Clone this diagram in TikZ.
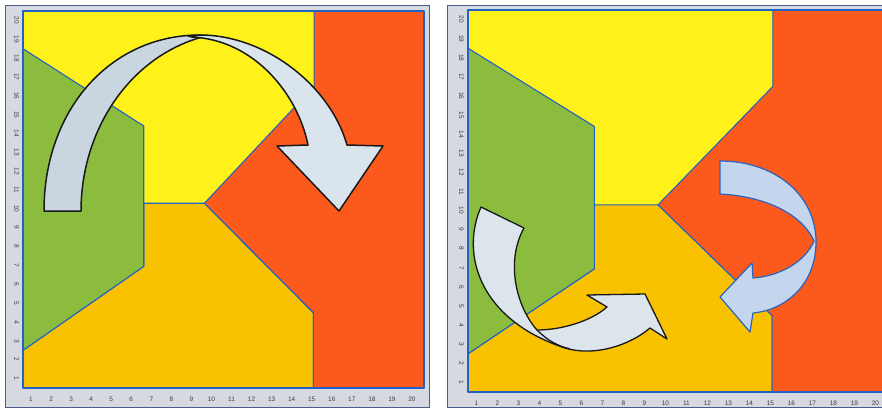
\documentclass[tikz,border=0pt]{standalone}
\usepackage{fontspec}
\setmainfont{Liberation Sans}
\definecolor{yellowR}{HTML}{FFF21A}
\definecolor{goldR}{HTML}{F8C200}
\definecolor{redR}{HTML}{FC5A1C}
\definecolor{greenR}{HTML}{8CBC3E}
\definecolor{rblue}{HTML}{2262C6}
\definecolor{framegray}{HTML}{D6DAE0}
\definecolor{framedge}{HTML}{4A5A8A}
\definecolor{labgray}{HTML}{3A3A3A}
\definecolor{arrowback}{HTML}{C9D6DF}
\definecolor{arrowfront}{HTML}{D9E4EC}
\definecolor{arrowA}{HTML}{DCE5EC}
\definecolor{arrowBfill}{HTML}{C3D6EE}
\definecolor{arrowBline}{HTML}{2A62C0}
\newcommand{\mypanel}[1]{%
  \fill[yellowR] (0,0) rectangle (20,20);
  \filldraw[region,fill=goldR] (0,0) -- (0,2) -- (6.02,6.45) -- (6.02,9.8) -- (9.05,9.8) -- (14.48,4) -- (14.48,0) -- cycle;
  \filldraw[region,fill=greenR] (0,18) -- (6.02,13.9) -- (6.02,6.45) -- (0,2) -- cycle;
  \filldraw[region,fill=redR] (14.48,0) -- (14.48,4) -- (9.05,9.8) -- (14.52,16) -- (14.52,20) -- (20,20) -- (20,0) -- cycle;
  \draw[region] (0,0) rectangle (20,20);
  \foreach \k in {1,...,20}{%
    \node[lab] (#1-x\k) at (\k-0.6,-0.58) {\k};
    \node[lab,rotate=-90] (#1-y\k) at (-0.32,\k-0.5) {\k};
  }%
}
\begin{document}
\begin{tikzpicture}[x=1pt,y=-1pt,
  region/.style={draw=rblue,line width=1.1pt,line join=round},
  lab/.style={font=\fontsize{6.5}{7}\selectfont,text=labgray,inner sep=0pt},
  arrowblack/.style={draw=black!90,line width=1.5pt,line join=round},
  arrowthin/.style={draw=black!90,line width=1.3pt,line join=round},
  arrowblue/.style={draw=arrowBline,line width=1.2pt,line join=round}]
\useasboundingbox (0,0) rectangle (882,410);
\clip (0,0) rectangle (882,410);
\fill[white] (0,0) rectangle (882,410);
% frames
\filldraw[fill=framegray,draw=framedge,line width=0.8pt] (5,5) rectangle (429,407);
\filldraw[fill=framegray,draw=framedge,line width=0.8pt] (447,5) rectangle (895,407);
% left panel
\begin{scope}[shift={(23pt,-388pt)},x=20.05pt,y=18.85pt]
  \mypanel{L}
\end{scope}
% right panel
\begin{scope}[shift={(468pt,-392pt)},x=21pt,y=19.1pt]
  \mypanel{R}
\end{scope}
% left arrow: back band
\filldraw[arrowblack,fill=arrowback] (44,211) .. controls (44,110) and (110,35) .. (200,35) -- (206,36)
  .. controls (130,55) and (81,130) .. (81,211) -- cycle;
% left arrow: front band with head
\filldraw[arrowblack,fill=arrowfront] (188,36) -- (200,35) .. controls (265,35) and (330,85) .. (347,145)
  -- (383,146) -- (339,211) -- (277,146) -- (308,145)
  .. controls (298,95) and (255,40) .. (192,37) -- cycle;
% right panel arrow A
\filldraw[arrowthin,fill=arrowA] (481,207) .. controls (460,255) and (480,320) .. (565,348)
  .. controls (595,357) and (630,345) .. (650,328)
  -- (667,339) -- (645,294) -- (587,295) -- (607,307)
  .. controls (590,322) and (560,330) .. (537,330)
  .. controls (515,305) and (506,260) .. (524,228) -- cycle;
\draw[arrowthin] (537,330) .. controls (548,341) and (558,346) .. (570,349);
% right panel arrow B
\filldraw[arrowblue,fill=arrowBfill] (720,161) .. controls (775,161) and (816,195) .. (816,242)
  .. controls (816,285) and (785,310) .. (753,313)
  -- (750,332) -- (720,297) -- (752,263) -- (753,278)
  .. controls (780,276) and (805,262) .. (814,241)
  .. controls (805,220) and (775,197) .. (720,194) -- cycle;
\end{tikzpicture}
\end{document}
